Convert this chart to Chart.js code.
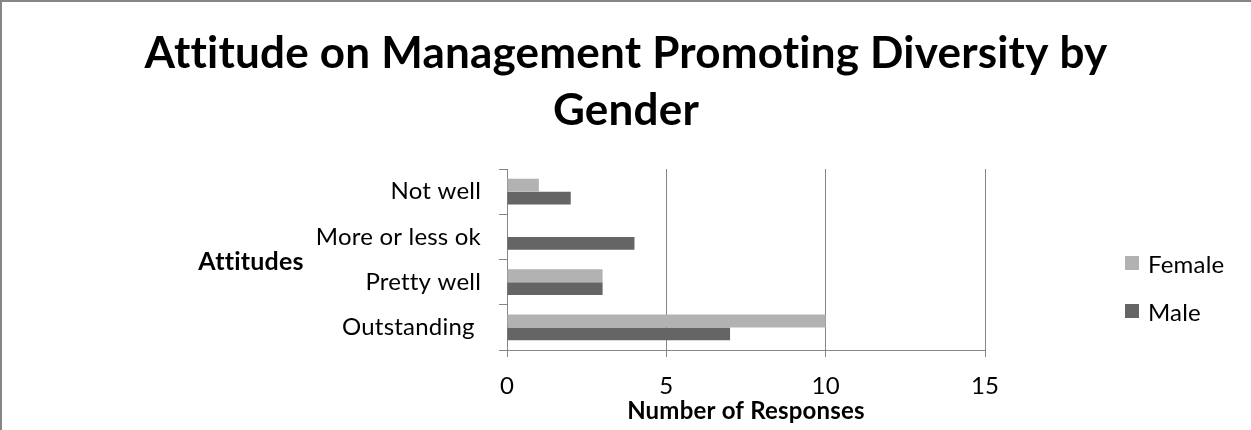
<!DOCTYPE html>
<html>
<head>
<meta charset="utf-8">
<title>Attitude on Management Promoting Diversity by Gender</title>
<script src="https://cdn.jsdelivr.net/npm/chart.js@4/dist/chart.umd.min.js"></script>
<style>
  html, body { margin: 0; padding: 0; background: #fff; }
  #wrap { width: 1251px; height: 430px; }
</style>
</head>
<body>
<div id="wrap"><canvas id="chart" width="1251" height="430"></canvas></div>
<script>
// Survey answers, one entry per attitude (top to bottom)
const categories = ['Not well', 'More or less ok', 'Pretty well', 'Outstanding '];
const femaleCounts = [1, 0, 3, 10];
const maleCounts = [2, 4, 3, 7];
const xTickValues = [0, 5, 10, 15];
const titleLines = ['Attitude on Management Promoting Diversity by', 'Gender'];

const FEMALE_COLOR = '#b2b2b2';
const MALE_COLOR = '#656565';
const GRID_COLOR = '#868686';
const FONT = 'Lato, "Open Sans", sans-serif';

// Frame, title, y-axis caption and legend drawn around the plot
const decor = {
  id: 'decor',
  beforeDraw(chart) {
    const ctx = chart.ctx;
    ctx.save();
    ctx.fillStyle = '#ffffff';
    ctx.fillRect(0, 0, chart.width, chart.height);
    ctx.fillStyle = GRID_COLOR;
    ctx.fillRect(0, 0, chart.width, 2);
    ctx.fillRect(0, 0, 2, chart.height);
    ctx.restore();
    // a hair of tracking keeps letters like "tt" and "ti" unjoined
    if ('letterSpacing' in ctx) ctx.letterSpacing = '0.2px';
  },
  afterDraw(chart) {
    const ctx = chart.ctx;
    ctx.save();
    ctx.fillStyle = '#000';
    ctx.textAlign = 'center';
    ctx.textBaseline = 'alphabetic';
    ctx.font = 'bold 44px ' + FONT;
    titleLines.forEach((line, i) => ctx.fillText(line, 626, 68 + i * 57));

    ctx.font = 'bold 25px ' + FONT;
    ctx.fillText('Attitudes', 251, 270);

    ctx.textAlign = 'left';
    ctx.font = '24px ' + FONT;
    chart.data.datasets.forEach((ds, i) => {
      const top = 256 + i * 48;
      ctx.fillStyle = ds.backgroundColor;
      ctx.fillRect(1125, top, 14, 14);
      ctx.fillStyle = '#000';
      ctx.fillText(ds.label, 1148, top + 17);
    });
    ctx.restore();
  }
};

new Chart(document.getElementById('chart'), {
  type: 'bar',
  data: {
    labels: categories,
    datasets: [
      { label: 'Female', data: femaleCounts, backgroundColor: FEMALE_COLOR, categoryPercentage: 0.57, barPercentage: 1 },
      { label: 'Male', data: maleCounts, backgroundColor: MALE_COLOR, categoryPercentage: 0.57, barPercentage: 1 }
    ]
  },
  options: {
    indexAxis: 'y',
    responsive: false,
    animation: false,
    layout: { padding: { top: 169, right: 266, bottom: 0, left: 0 } },
    plugins: {
      legend: { display: false },
      title: { display: false },
      tooltip: { enabled: false }
    },
    scales: {
      x: {
        min: 0,
        max: 15,
        afterBuildTicks: (scale) => { scale.ticks = xTickValues.map(v => ({ value: v })); },
        afterFit: (scale) => { scale.height = 80; },
        grid: { color: GRID_COLOR, lineWidth: 1, tickLength: 7 },
        border: { color: GRID_COLOR, width: 1 },
        ticks: { color: '#000', font: { family: FONT, size: 24 }, padding: 15, maxRotation: 0 },
        title: {
          display: true,
          text: 'Number of Responses',
          color: '#000',
          font: { family: FONT, size: 24, weight: 'bold' },
          padding: { top: 0, bottom: 4 }
        }
      },
      y: {
        afterFit: (scale) => { scale.width = 507; },
        grid: { drawOnChartArea: false, color: GRID_COLOR, tickLength: 8 },
        border: { color: GRID_COLOR, width: 1 },
        ticks: { color: '#000', font: { family: FONT, size: 24 }, padding: 18 }
      }
    }
  },
  plugins: [decor]
});
</script>
</body>
</html>
